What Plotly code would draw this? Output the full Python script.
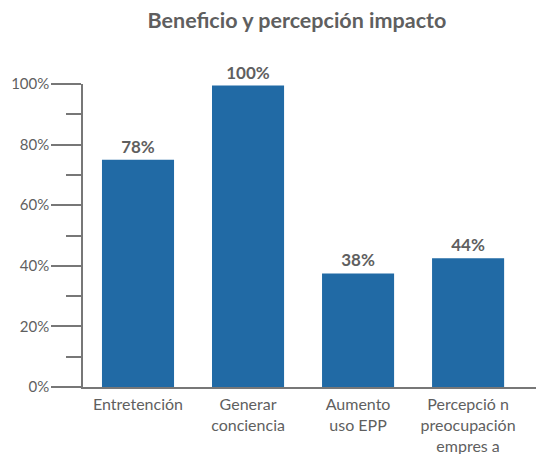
import plotly.graph_objects as go

categories = ["Entretención", "Generar<br>conciencia", "Aumento<br>uso EPP",
              "Percepció n<br>preocupación<br>empres a"]
values = [75, 99.5, 37.5, 42.5]
labels = ["78%", "100%", "38%", "44%"]
y_ticks = [0, 20, 40, 60, 80, 100]
y_ticklabels = ["0%", "20%", "40%", "60%", "80%", "100%"]

gray = "#5f5f5f"

fig = go.Figure(
    go.Bar(
        x=categories,
        y=values,
        text=labels,
        textposition="outside",
        textfont=dict(size=17, color=gray, family="Lato", weight="bold"),
        cliponaxis=False,
        marker_color="#216aa5",
        marker_line_width=0,
    )
)

# page body has an 8px margin, so the figure is sized 8px smaller
fig.update_layout(
    width=536,
    height=446,
    margin=dict(l=75, r=0, t=76, b=67, autoexpand=False),
    plot_bgcolor="white",
    paper_bgcolor="white",
    bargap=0.345,
    showlegend=False,
    font=dict(family="Lato", color=gray, size=15),
    title=dict(
        text="Beneficio y percepción impacto",
        x=0.539, xanchor="center", y=0.973, yanchor="middle",
        font=dict(size=21.5, color=gray, family="Lato", weight="bold"),
    ),
)

fig.update_xaxes(
    range=[-0.5, 3.69],
    showline=True, linecolor="#777777", linewidth=1.5,
    ticks="", showgrid=False, ticklabelstandoff=2,
    tickfont=dict(size=16, color=gray),
)
fig.update_yaxes(
    range=[0, 100],
    tickvals=y_ticks, ticktext=y_ticklabels,
    showline=True, linecolor="#777777", linewidth=1.5,
    ticks="outside", ticklen=30, tickcolor="#777777", tickwidth=1.5,
    minor=dict(ticks="outside", ticklen=15, dtick=10, tickcolor="#777777", tickwidth=1.5),
    showgrid=False, zeroline=False, ticklabelstandoff=-1,
    tickfont=dict(size=15, color=gray),
)

fig.write_html("out.html")
